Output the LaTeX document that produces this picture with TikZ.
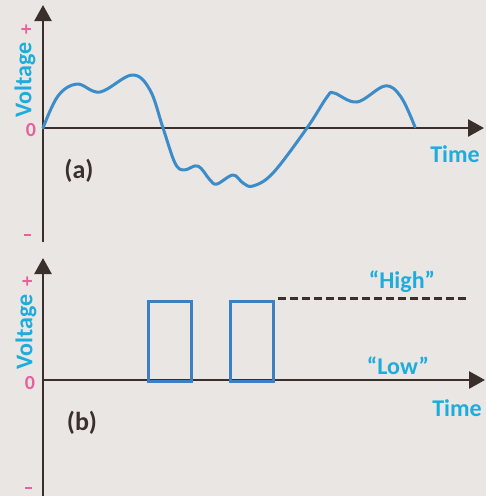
\documentclass[tikz,border=0pt]{standalone}
\usepackage{fontspec}
\setmainfont{Carlito}
\usetikzlibrary{arrows.meta}
\definecolor{paper}{HTML}{EAE6E4}
\definecolor{axiscol}{HTML}{3A2F2B}
\definecolor{wave}{HTML}{3B8CC8}
\definecolor{pulse}{HTML}{3C80C2}
\definecolor{cyantext}{HTML}{1EACDD}
\definecolor{pinktext}{HTML}{E8609C}
\tikzset{
  axis/.style={line width=2.6pt, draw=axiscol, -{Triangle[width=17pt,length=16pt]}},
  wavestyle/.style={line width=3pt, draw=wave, line cap=round, line join=round},
  pulsebox/.style={line width=3pt, draw=pulse},
  cyanlbl/.style={text=cyantext, font=\fontsize{24}{26}\selectfont\bfseries, inner sep=0pt},
  pinklbl/.style={text=pinktext, font=\fontsize{20}{22}\selectfont\bfseries, inner sep=0pt},
  voltlbl/.style={text=cyantext, font=\fontsize{24}{26}\selectfont\bfseries, inner sep=0pt, rotate=90},
  panellbl/.style={text=axiscol, font=\fontsize{26}{28}\selectfont\bfseries, inner sep=0pt},
  minuslbl/.style={fill=pinktext, inner sep=0pt, minimum width=7pt, minimum height=2.6pt},
}
\begin{document}
\begin{tikzpicture}[x=1pt,y=-1pt]
\fill[paper] (0,0) rectangle (486,496);
\useasboundingbox (0,0) rectangle (486,496);
% ---------- panel (a)
\coordinate (aO) at (43,128);
\coordinate (aBot) at (43,242);
\coordinate (aTop) at (43,5);
\coordinate (aRight) at (484,128);
\draw[axis] (aBot) -- (aTop);
\draw[axis] (aO) -- (aRight);
\draw[wavestyle] plot[smooth, tension=0.6] coordinates {
 (43,128) (58,96) (77,84) (100,92) (132,75) (150,90) (163,128) (175,163) (184,170)
 (198,166) (210,180) (217,184) (233,175) (243,183) (253,186) (273,173) (307,128)
 (327,97) (334,93) (357,102) (385,86) (401,97) (415,127)};
\node[pinklbl] (a0) at (31,130) {0};
\node[voltlbl] (aV) at (25,80) {Voltage};
\node[pinklbl, rotate=90] (aplus) at (27,30) {+};
\node[minuslbl] (aminus) at (27,235) {};
\node[panellbl] (alab) at (79,171) {(a)};
\node[cyanlbl] (atime) at (455,154) {Time};
% ---------- panel (b)
\coordinate (bO) at (43,380);
\coordinate (bBot) at (43,496);
\coordinate (bTop) at (43,258);
\coordinate (bRight) at (485,380);
\draw[axis] (bBot) -- (bTop);
\draw[axis] (bO) -- (bRight);
\draw[pulsebox] (148,381) rectangle (191,301);
\draw[pulsebox] (230,381) rectangle (273,301);
\coordinate (hs) at (278,298);
\coordinate (he) at (469,298);
\draw[line width=3pt, draw=axiscol, dash pattern=on 8pt off 4pt] (hs) -- (he);
\node[pinklbl] (b0) at (30,383) {0};
\node[voltlbl] (bV) at (26,332) {Voltage};
\node[pinklbl, rotate=90] (bplus) at (28,282) {+};
\node[minuslbl] (bminus) at (28,488) {};
\node[panellbl] (blab) at (82,423) {(b)};
\node[cyanlbl] (btime) at (457,408) {Time};
\node[cyanlbl] (high) at (402,282) {“High”};
\node[cyanlbl] (low) at (398,366) {“Low”};
\end{tikzpicture}
\end{document}
